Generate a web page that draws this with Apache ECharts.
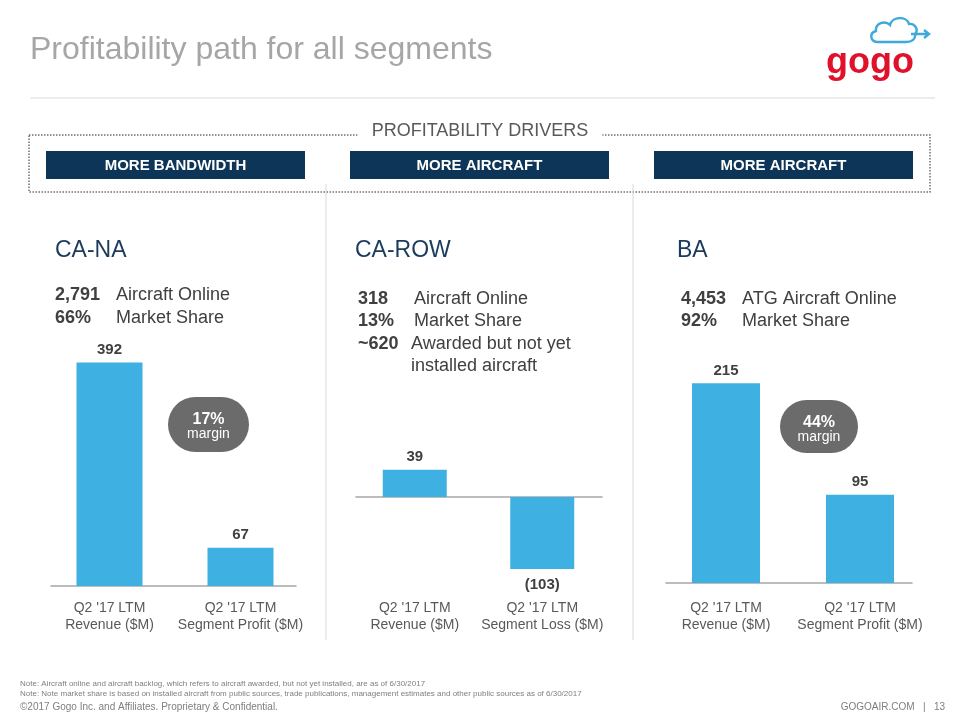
<!DOCTYPE html>
<html>
<head>
<meta charset="utf-8">
<script src="https://cdn.jsdelivr.net/npm/echarts@6/dist/echarts.min.js"></script>
<style>html,body{margin:0;padding:0;background:#fff}#c{width:960px;height:720px}</style>
</head>
<body>
<div id="c"></div>
<script>
// ---- data ----
const categoriesNA = ["Q2 '17 LTM\nRevenue ($M)", "Q2 '17 LTM\nSegment Profit ($M)"];
const valuesNA = [392, 67];
const categoriesROW = ["Q2 '17 LTM\nRevenue ($M)", "Q2 '17 LTM\nSegment Loss ($M)"];
const valuesROW = [39, -103];
const categoriesBA = ["Q2 '17 LTM\nRevenue ($M)", "Q2 '17 LTM\nSegment Profit ($M)"];
const valuesBA = [215, 95];
const segmentNames = ["CA-NA", "CA-ROW", "BA"];
const drivers = ["MORE BANDWIDTH", "MORE AIRCRAFT", "MORE AIRCRAFT"];
const statsNA = [["2,791", "Aircraft Online"], ["66%", "Market Share"]];
const statsROW = [["318", "Aircraft Online"], ["13%", "Market Share"], ["~620", "Awarded but not yet"], ["", "installed aircraft"]];
const statsBA = [["4,453", "ATG Aircraft Online"], ["92%", "Market Share"]];
const marginNA = "17%";
const marginBA = "44%";

const FF = "'Liberation Sans', Arial, sans-serif";
const BAR = '#3eb1e2';
const AXIS = '#a6a6a6';

const chart = echarts.init(document.getElementById('c'), null, {renderer: 'canvas'});

function txt(x, y, text, font, fill, align, extraStyle) {
  return {
    type: 'text', x: x, y: y, silent: true,
    style: Object.assign({text: text, font: font, fill: fill,
      textAlign: align || 'left', textVerticalAlign: 'middle',
      align: align || 'left', verticalAlign: 'middle'}, extraStyle || {})
  };
}

const labelFmt = p => p.value < 0 ? '(' + (-p.value) + ')' : String(p.value);
const valueLabel = {show: true, position: 'top', distance: 5, formatter: labelFmt,
  fontFamily: FF, fontSize: 15, fontWeight: 'bold', color: '#404040'};

function xAx(gi, cats, margin) {
  return {type: 'category', gridIndex: gi, data: cats,
    axisLine: {show: false, onZero: false},
    axisTick: {show: false},
    axisLabel: {interval: 0, margin: margin, fontFamily: FF, fontSize: 14, lineHeight: 17, color: '#595959'}};
}
function yAx(gi, min, max) {
  return {type: 'value', gridIndex: gi, min: min, max: max, show: false, splitLine: {show: false}};
}
// baseline-only axes (zero lines)
function baseX(gi) {
  return {type: 'value', gridIndex: gi, min: 0, max: 1, axisLine: {show: true, onZero: false, lineStyle: {color: AXIS, width: 1.5}},
    axisTick: {show: false}, axisLabel: {show: false}, splitLine: {show: false}};
}

const cloudSvg = '<svg xmlns="http://www.w3.org/2000/svg" width="64" height="28" viewBox="0 0 64 28">' +
  '<path d="M10,25 C2,25 1,16 8,14 C7,6 17,3 22,8 C24,-1 39,-1 41,7 C47,6 51,13 47,17 C48,22 44,25 38,25 Z" fill="none" stroke="#3fa9dc" stroke-width="2.4"/>' +
  '<path d="M43,17 L61,17 M56,13 L61,17 L56,21" fill="none" stroke="#3fa9dc" stroke-width="2.4"/></svg>';

const g = [];
// Title
g.push(txt(30, 50, 'Profitability path for all segments', '32px ' + FF, '#a6a6a6'));
g.push({type: 'line', silent: true, shape: {x1: 30, y1: 98, x2: 935, y2: 98}, style: {stroke: '#d9d9d9', lineWidth: 1}});
// Logo
g.push(txt(870, 63, 'gogo', 'bold 36px ' + FF, '#e0112b', 'center'));
g.push({type: 'image', silent: true, x: 868, y: 17, style: {image: 'data:image/svg+xml;charset=utf-8,' + encodeURIComponent(cloudSvg), width: 64, height: 28}});
// Dotted box
g.push({type: 'rect', silent: true, shape: {x: 29, y: 135, width: 901, height: 57},
  style: {fill: 'none', stroke: '#6f6f6f', lineWidth: 1.5, lineDash: [1.5, 1.5]}});
g.push(txt(480, 131, 'PROFITABILITY DRIVERS', '18px ' + FF, '#595959', 'center', {backgroundColor: '#fff', padding: [2, 14]}));
const boxX = [46, 350, 654];
drivers.forEach((d, i) => {
  g.push({type: 'rect', silent: true, shape: {x: boxX[i], y: 151, width: 259, height: 28}, style: {fill: '#0c3558'}});
  g.push(txt(boxX[i] + 129.5, 165.5, d, 'bold 15px ' + FF, '#ffffff', 'center'));
});
// separators
[326, 633].forEach(x => g.push({type: 'line', silent: true, shape: {x1: x, y1: 184, x2: x, y2: 640}, style: {stroke: '#d9d9d9', lineWidth: 1}}));
// Segment titles
const segX = [55, 355, 677];
segmentNames.forEach((s, i) => g.push(txt(segX[i], 251, s, '23px ' + FF, '#1b3a5c')));
// Stats
function stats(arr, xNum, xLab, y0, dy, xLabCont) {
  arr.forEach((r, i) => {
    if (r[0]) g.push(txt(xNum, y0 + i * dy, r[0], 'bold 18px ' + FF, '#404040'));
    g.push(txt(i >= 2 && xLabCont ? xLabCont : xLab, y0 + i * dy, r[1], '18px ' + FF, '#404040'));
  });
}
stats(statsNA, 55, 116, 295, 23);
stats(statsROW, 358, 414, 299, 22.5, 411);
stats(statsBA, 681, 742, 299, 22.5);
// margin bubbles
function bubble(x, y, w, h, pct) {
  g.push({type: 'rect', silent: true, shape: {x: x, y: y, width: w, height: h, r: h / 2}, style: {fill: '#6b6b6b'}});
  g.push(txt(x + w / 2, y + 23, pct, 'bold 16px ' + FF, '#ffffff', 'center'));
  g.push(txt(x + w / 2, y + 37.5, 'margin', '14px ' + FF, '#ffffff', 'center'));
}
bubble(168, 397, 81, 55, marginNA);
bubble(780, 400, 78, 53, marginBA);
// footer
g.push(txt(20, 684, 'Note: Aircraft online and aircraft backlog, which refers to aircraft awarded, but not yet installed, are as of 6/30/2017', '8px ' + FF, '#7f7f7f'));
g.push(txt(20, 694, 'Note: Note market share is based on installed aircraft from public sources, trade publications, management estimates and other public sources as of 6/30/2017', '8px ' + FF, '#7f7f7f'));
g.push(txt(20, 707, '\u00a92017 Gogo Inc. and Affiliates. Proprietary & Confidential.', '10px ' + FF, '#7f7f7f'));
g.push(txt(945, 707, 'GOGOAIR.COM   |   13', '10px ' + FF, '#7f7f7f', 'right'));

const option = {
  backgroundColor: '#ffffff',
  animation: false,
  grid: [
    {left: 44, width: 262, top: 358, height: 228},
    {left: 351, width: 255, top: 455, height: 126},
    {left: 659, width: 268, top: 360, height: 223},
    // baseline grids
    {left: 51, width: 245, top: 358, height: 228},
    {left: 356, width: 246, top: 455, height: 42},
    {left: 666, width: 246, top: 360, height: 223}
  ],
  xAxis: [xAx(0, categoriesNA, 14), xAx(1, categoriesROW, 19), xAx(2, categoriesBA, 17), baseX(3), baseX(4), baseX(5)],
  yAxis: [yAx(0, 0, 400), yAx(1, -120, 60), yAx(2, 0, 240), yAx(3, 0, 1), yAx(4, 0, 1), yAx(5, 0, 1)],
  series: [
    {type: 'bar', xAxisIndex: 0, yAxisIndex: 0, data: valuesNA, barWidth: 66, itemStyle: {color: BAR}, label: valueLabel, z: 3},
    {type: 'bar', xAxisIndex: 1, yAxisIndex: 1, barWidth: 64, itemStyle: {color: BAR}, z: 3,
      data: valuesROW.map(v => ({value: v, label: {position: v < 0 ? 'bottom' : 'top', distance: v < 0 ? 8 : 5}})),
      label: valueLabel},
    {type: 'bar', xAxisIndex: 2, yAxisIndex: 2, data: valuesBA, barWidth: 68, itemStyle: {color: BAR}, label: valueLabel, z: 3}
  ],
  graphic: {elements: g}
};
chart.setOption(option);
</script>
</body>
</html>
